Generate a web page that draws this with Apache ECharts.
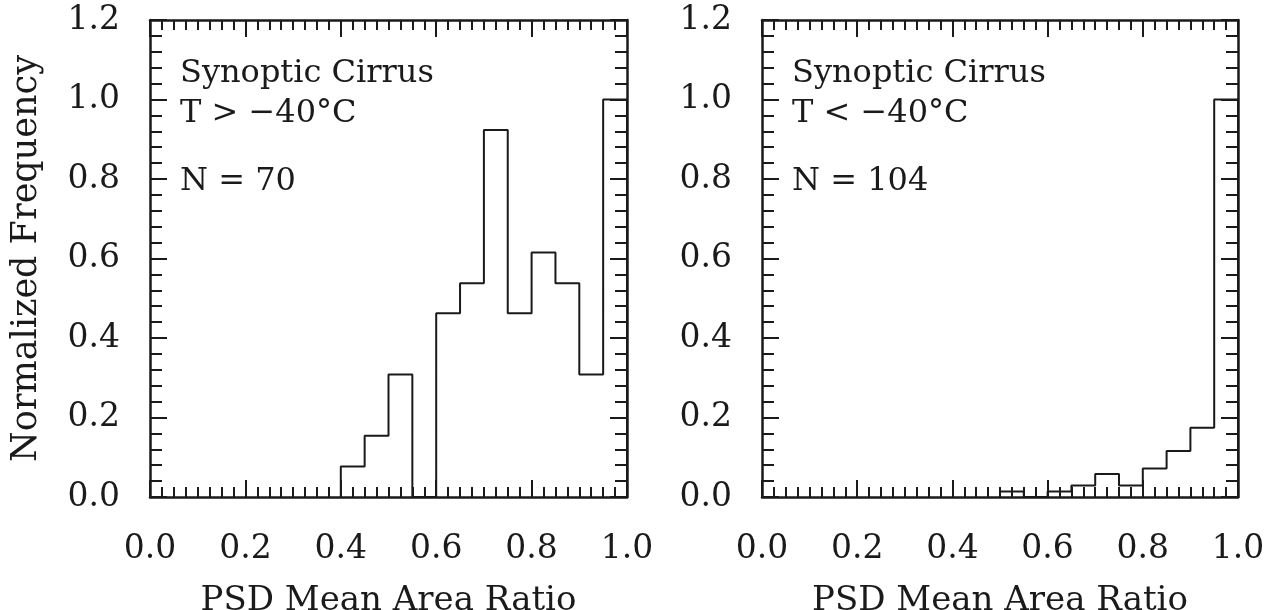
<!DOCTYPE html>
<html>
<head>
<meta charset="utf-8">
<script src="https://cdn.jsdelivr.net/npm/echarts@6/dist/echarts.min.js"></script>
<style>
html,body{margin:0;padding:0;background:#fff;}
#chart{width:1271px;height:610px;}
</style>
</head>
<body>
<div id="chart"></div>
<script>
// ---- data ----
const binWidth = 0.05;
const leftBinStarts = [0.40, 0.45, 0.50, 0.55, 0.60, 0.65, 0.70, 0.75, 0.80, 0.85, 0.90, 0.95];
const leftFreq      = [0.077, 0.154, 0.308, 0.0, 0.462, 0.538, 0.923, 0.462, 0.615, 0.538, 0.308, 1.0];
const rightBinStarts = [0.50, 0.55, 0.60, 0.65, 0.70, 0.75, 0.80, 0.85, 0.90, 0.95];
const rightFreq      = [0.014, 0.0, 0.014, 0.029, 0.058, 0.029, 0.072, 0.116, 0.174, 1.0];
const xTickLabels = ['0.0', '0.2', '0.4', '0.6', '0.8', '1.0'];
const yTickLabels = ['0.0', '0.2', '0.4', '0.6', '0.8', '1.0', '1.2'];
const leftNotes  = ['Synoptic Cirrus', 'T > \u221240\u00B0C', 'N = 70'];
const rightNotes = ['Synoptic Cirrus', 'T < \u221240\u00B0C', 'N = 104'];
const xTitle = 'PSD Mean Area Ratio';
const yTitle = 'Normalized Frequency';

function stepPoints(starts, freq) {
  const pts = [[starts[0], 0]];
  for (let i = 0; i < starts.length; i++) {
    pts.push([starts[i], freq[i]]);
    pts.push([starts[i] + binWidth, freq[i]]);
  }
  pts.push([starts[starts.length - 1] + binWidth, 0]);
  return pts;
}

const FONT = 'DejaVu Serif';
const INK = '#1a1a1a';

function xAxisDef(gridIndex, pos, showLabels, name) {
  return {
    type: 'value', gridIndex: gridIndex, position: pos,
    min: 0, max: 1, interval: 0.2,
    axisLine: {show: true, onZero: false, lineStyle: {color: INK, width: 2.5}},
    axisTick: {show: true, inside: true, length: 17, lineStyle: {color: INK, width: 2}},
    minorTick: {show: true, splitNumber: 8, length: 10, lineStyle: {color: INK, width: 2}},
    splitLine: {show: false},
    axisLabel: {show: showLabels, margin: 36, fontFamily: FONT, fontSize: 33, color: INK,
      formatter: function (v) { return xTickLabels[Math.round(v / 0.2)]; }},
    name: name || '', nameLocation: 'middle', nameGap: 87,
    nameTextStyle: {fontFamily: FONT, fontSize: 34, color: INK}
  };
}
function yAxisDef(gridIndex, pos, showLabels, name) {
  return {
    type: 'value', gridIndex: gridIndex, position: pos,
    min: 0, max: 1.2, interval: 0.2,
    axisLine: {show: true, onZero: false, lineStyle: {color: INK, width: 2.5}},
    axisTick: {show: true, inside: true, length: 17, lineStyle: {color: INK, width: 2}},
    minorTick: {show: true, splitNumber: 5, length: 12, lineStyle: {color: INK, width: 2}},
    splitLine: {show: false},
    axisLabel: {show: showLabels, margin: 30, fontFamily: FONT, fontSize: 33, color: INK,
      formatter: function (v) { return yTickLabels[Math.round(v / 0.2)]; }},
    name: name || '', nameLocation: 'middle', nameGap: 106,
    nameTextStyle: {fontFamily: FONT, fontSize: 35, color: INK}
  };
}

function notes(lines, x) {
  const ys = [74, 114, 182];
  return lines.map(function (t, i) {
    return {type: 'text', x: x, y: ys[i],
      style: {text: t, font: '32px "' + FONT + '"', fill: INK, verticalAlign: 'middle', align: 'left'}};
  });
}

const chart = echarts.init(document.getElementById('chart'), null, {renderer: 'canvas'});
chart.setOption({
  animation: false,
  backgroundColor: '#fff',
  grid: [
    {left: 150, right: 644, top: 20, bottom: 113, containLabel: false, outerBoundsMode: 'none'},
    {left: 762, right: 33, top: 20, bottom: 113, containLabel: false, outerBoundsMode: 'none'}
  ],
  xAxis: [
    xAxisDef(0, 'bottom', true, xTitle),
    xAxisDef(0, 'top', false),
    xAxisDef(1, 'bottom', true, xTitle),
    xAxisDef(1, 'top', false)
  ],
  yAxis: [
    yAxisDef(0, 'left', true, yTitle),
    yAxisDef(0, 'right', false),
    yAxisDef(1, 'left', true),
    yAxisDef(1, 'right', false)
  ],
  series: [
    {type: 'line', xAxisIndex: 0, yAxisIndex: 0, data: stepPoints(leftBinStarts, leftFreq),
      showSymbol: false, symbol: 'none', clip: false, lineStyle: {color: INK, width: 2}},
    {type: 'line', xAxisIndex: 2, yAxisIndex: 2, data: stepPoints(rightBinStarts, rightFreq),
      showSymbol: false, symbol: 'none', clip: false, lineStyle: {color: INK, width: 2}}
  ],
  graphic: notes(leftNotes, 180).concat(notes(rightNotes, 792))
});
</script>
</body>
</html>
